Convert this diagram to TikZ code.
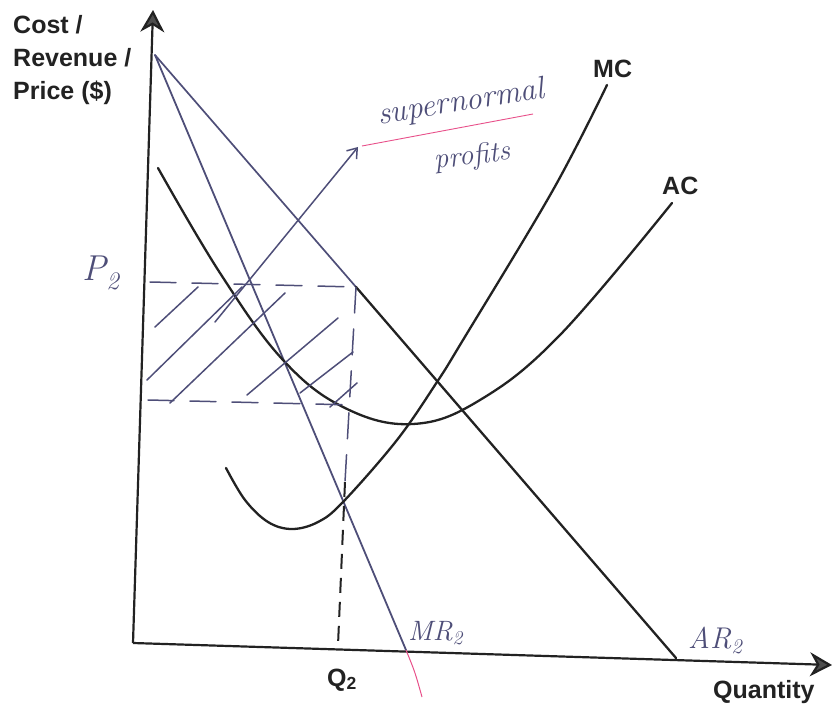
\documentclass[tikz,border=0pt]{standalone}
\usepackage{fontspec}
\newfontfamily\labfont{Liberation Sans}
\usetikzlibrary{arrows.meta}
\definecolor{ink}{HTML}{222222}
\definecolor{pen}{HTML}{4E4E78}
\definecolor{pinkpen}{HTML}{E8508A}
\tikzset{
  axisline/.style={line width=2.2pt, draw=ink, -{Stealth[length=22pt,width=24pt,inset=7pt,fill=ink!80]}},
  curve/.style={line width=2.3pt, draw=ink, line cap=round},
  penline/.style={line width=1.5pt, draw=pen, line cap=round},
  pendash/.style={penline, dash pattern=on 26pt off 16pt},
  inkdash/.style={line width=2pt, draw=ink, dash pattern=on 15pt off 9pt},
  lab/.style={font=\labfont\bfseries\fontsize{25}{33}\selectfont, text=ink, inner sep=0pt},
  hand/.style={font=\itshape\fontsize{32}{36}\selectfont, text=pen, inner sep=0pt},
}
\begin{document}
\begin{tikzpicture}[x=1pt,y=-1pt]
\useasboundingbox (0,0) rectangle (832,711);
% key points
\coordinate (O) at (133,643);
\coordinate (Ytop) at (153,10);
\coordinate (Xend) at (832,665);
\coordinate (T) at (155,55);
\coordinate (PC) at (356,287);
\coordinate (ARend) at (676,658);
\coordinate (MRend) at (406,650);
\coordinate (MRpink) at (422,697);
\coordinate (E) at (343,502);
\coordinate (Dtop) at (345,482);
\coordinate (Q) at (338,645);
\coordinate (P2a) at (150,282);
\coordinate (Bl) at (148,400);
\coordinate (Br) at (355,405);
\coordinate (ArrS) at (215,322);
\coordinate (ArrE) at (358,147);
\coordinate (UlS) at (362,146);
\coordinate (UlE) at (533,114);

% axes
\draw[axisline] (O) -- (Ytop);
\draw[axisline] (O) -- (Xend);

% AR and MR
\draw[penline, line width=1.7pt] (T) -- (PC);
\draw[curve] (PC) -- (ARend);
\draw[penline, line width=1.8pt] (T) -- (MRend);
\draw[pinkpen, line width=1pt] (MRend) .. controls (415,672) .. (MRpink);

% MC
\draw[curve] plot[smooth, tension=0.6] coordinates {(226,468) (245,500) (268,522) (292,529) (318,522) (343,502) (397,440) (437,382) (463,340) (553,190) (607,85)};
% AC
\draw[curve] plot[smooth, tension=0.65] coordinates {(158,168) (220,273) (283,360) (345,408) (413,424) (480,400) (560,335) (672,203)};

% dashed lines
\draw[pendash] (P2a) -- (PC);
\draw[pendash] (PC) -- (Dtop);
\draw[pendash] (Bl) -- (Br);
\draw[inkdash] (Dtop) -- (Q);

% hatching
\draw[penline] (155,327) -- (198,287);
\draw[penline] (147,380) -- (242,287);
\draw[penline] (170,403) -- (285,293);
\draw[penline] (247,395) -- (338,318);
\draw[penline] (300,393) -- (353,352);
\draw[penline] (330,407) -- (357,383);

% pointer and underline
\draw[penline, -{Straight Barb[length=9pt,width=13pt]}] (ArrS) -- (ArrE);
\draw[pinkpen, line width=0.9pt] (UlS) -- (UlE);

% printed labels
\node[lab, align=left, anchor=north west] (ylab) at (13,15) {Cost /\\Revenue /\\Price (\$)};
\node[lab, anchor=base west] (xlab) at (713,698) {Quantity};
\node[lab, anchor=base west] (qlab) at (327,686) {Q\textsubscript{2}};
\node[lab, anchor=base west] (mclab) at (593,78) {MC};
\node[lab, anchor=base west] (aclab) at (662,195) {AC};

% handwritten labels
\node[hand, rotate=9] (sn) at (461,103) {supernormal};
\node[hand, rotate=7, font=\itshape\fontsize{29}{33}\selectfont] (pr) at (472,157) {profits};
\node[hand, font=\itshape\fontsize{36}{40}\selectfont] (p2) at (101,273) {P\textsubscript{2}};
\node[hand, anchor=base west, font=\itshape\fontsize{28}{32}\selectfont] (mr) at (408,640) {MR\textsubscript{2}};
\node[hand, anchor=base west, font=\itshape\fontsize{30}{34}\selectfont] (ar) at (688,648) {AR\textsubscript{2}};
\end{tikzpicture}
\end{document}
